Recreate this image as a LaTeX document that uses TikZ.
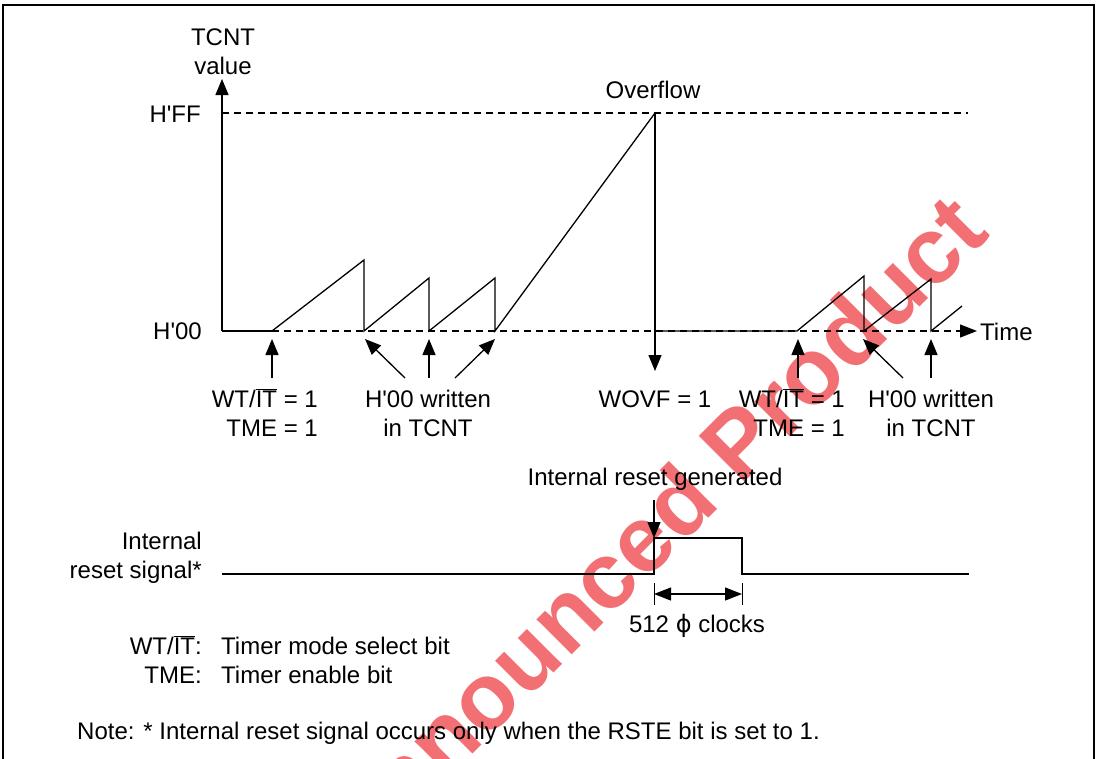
\documentclass[tikz,border=0pt]{standalone}
\usepackage{fontspec}
\setmainfont{Liberation Sans}[Ligatures=TeXOff]
\newfontfamily\djv{DejaVu Sans}
\usetikzlibrary{arrows.meta}
\definecolor{wm}{RGB}{242,112,116}
\newcommand{\myovl}[1]{$\overline{\mbox{#1}}$}
\begin{document}
\begin{tikzpicture}[x=1pt,y=-1pt,
  lbl/.style={inner sep=0pt, font=\fontsize{24}{29}\selectfont},
  wave/.style={line width=1.3pt, line join=miter},
  tip/.style={line width=1.3pt, -{Triangle[length=16pt,width=13pt]}},
  dashline/.style={line width=1.3pt, dash pattern=on 7pt off 5pt},
  ]
\useasboundingbox (0,0) rectangle (1098,758);
\clip (0,0) rectangle (1098,758);

% watermark
\node[rotate=45, anchor=base east, inner sep=0pt, text=wm,
      font=\fontsize{94}{96}\selectfont\bfseries] (wmark) at (992,235) {Unannounced Product};

% frame
\draw[line width=2pt] (3,760) -- (3,5) -- (1094,5) -- (1094,760);

% coordinates of the graph
\coordinate (o) at (222,331);
\coordinate (ytop) at (222,79);
\coordinate (ffL) at (222,113);
\coordinate (ffR) at (968,113);
\coordinate (s0) at (272,331);
\coordinate (p1) at (364,260);
\coordinate (b1) at (364,331);
\coordinate (p2) at (429,278);
\coordinate (b2) at (429,331);
\coordinate (p3) at (495,278);
\coordinate (b3) at (495,331);
\coordinate (ovf) at (655,113);
\coordinate (wtip) at (655,371);
\coordinate (z) at (655,331);
\coordinate (s1) at (797,331);
\coordinate (q1) at (864,276);
\coordinate (c1) at (864,331);
\coordinate (q2) at (931,279);
\coordinate (c2) at (931,331);
\coordinate (q3) at (962,306);
\coordinate (tend) at (977,331);

% axes
\draw[dashline] (ffL) -- (ffR);
\draw[dashline, -{Triangle[length=17pt,width=13pt]}] (s0) -- (tend);
\draw[tip] (o) -- (ytop);
\draw[wave] (o) -- (s0);

% counter waveform
\draw[wave] (s0) -- (p1) -- (b1) -- (p2) -- (b2) -- (p3) -- (b3) -- (ovf);
\draw[tip] (ovf) -- (wtip);
\draw[wave] (z) -- (s1) -- (q1) -- (c1) -- (q2) -- (c2) -- (q3);

% pointer arrows
\coordinate (a1) at (272,378); \coordinate (a1t) at (272,339);
\coordinate (a2) at (405,378); \coordinate (a2t) at (365,339);
\coordinate (a3) at (429,378); \coordinate (a3t) at (429,339);
\coordinate (a4) at (455,378); \coordinate (a4t) at (495,339);
\coordinate (a5) at (798,378); \coordinate (a5t) at (798,339);
\coordinate (a6) at (903,378); \coordinate (a6t) at (863,339);
\coordinate (a7) at (931,378); \coordinate (a7t) at (931,339);
\foreach \i in {1,...,7} \draw[tip] (a\i) -- (a\i t);

% labels of the graph
\node[lbl, anchor=base] (tcnt) at (223,45) {TCNT};
\node[lbl, anchor=base] (value) at (223,74) {value};
\node[lbl, anchor=base east] (hff) at (201,122) {H'FF};
\node[lbl, anchor=east] (h00) at (202,331) {H'00};
\node[lbl, anchor=west] (time) at (980,332) {Time};
\node[lbl, anchor=base] (ovlbl) at (653,98) {Overflow};

\node[lbl, anchor=base east] (wt1) at (318,407) {WT/\myovl{IT} = 1};
\node[lbl, anchor=base east] (tme1) at (318,436) {TME = 1};
\node[lbl, anchor=base] (hw1) at (428,407) {H'00 written};
\node[lbl, anchor=base] (it1) at (428,436) {in TCNT};
\node[lbl, anchor=base] (wovf) at (655,407) {WOVF = 1};
\node[lbl, anchor=base east] (wt2) at (845,407) {WT/\myovl{IT} = 1};
\node[lbl, anchor=base east] (tme2) at (845,436) {TME = 1};
\node[lbl, anchor=base] (hw2) at (931,407) {H'00 written};
\node[lbl, anchor=base] (it2) at (931,436) {in TCNT};

% internal reset signal
\node[lbl, anchor=base] (irg) at (655,485) {Internal reset generated};
\node[lbl, anchor=base east] (irs1) at (202,549) {Internal};
\node[lbl, anchor=base east] (irs2) at (202,578) {reset signal*};

\coordinate (r0) at (222,574);
\coordinate (r1) at (654,574);
\coordinate (r2) at (654,538);
\coordinate (r3) at (742,538);
\coordinate (r4) at (742,574);
\coordinate (r5) at (969,574);
\coordinate (igs) at (654,500);
\draw[wave] (r0) -- (r1) -- (r2) -- (r3) -- (r4) -- (r5);
\draw[tip] (igs) -- (r2);

\coordinate (d1a) at (654,583); \coordinate (d1b) at (654,605);
\coordinate (d2a) at (742,583); \coordinate (d2b) at (742,605);
\coordinate (m1) at (654,594); \coordinate (m2) at (742,594);
\draw[line width=1pt] (d1a) -- (d1b);
\draw[line width=1pt] (d2a) -- (d2b);
\draw[line width=1.3pt, {Triangle[length=17pt,width=13pt]}-{Triangle[length=17pt,width=13pt]}] (m1) -- (m2);
\node[lbl, anchor=base] (clk) at (697,632) {512 {\djv ϕ} clocks};

% legend and note
\node[lbl, anchor=base east] (lg1) at (202,654) {WT/\myovl{IT}:};
\node[lbl, anchor=base west] (lg1t) at (221,654) {Timer mode select bit};
\node[lbl, anchor=base east] (lg2) at (202,683) {TME:};
\node[lbl, anchor=base west] (lg2t) at (221,683) {Timer enable bit};
\node[lbl, anchor=base west] (note) at (77,739) {Note: * Internal reset signal occurs only when the RSTE bit is set to 1.};
\end{tikzpicture}
\end{document}
